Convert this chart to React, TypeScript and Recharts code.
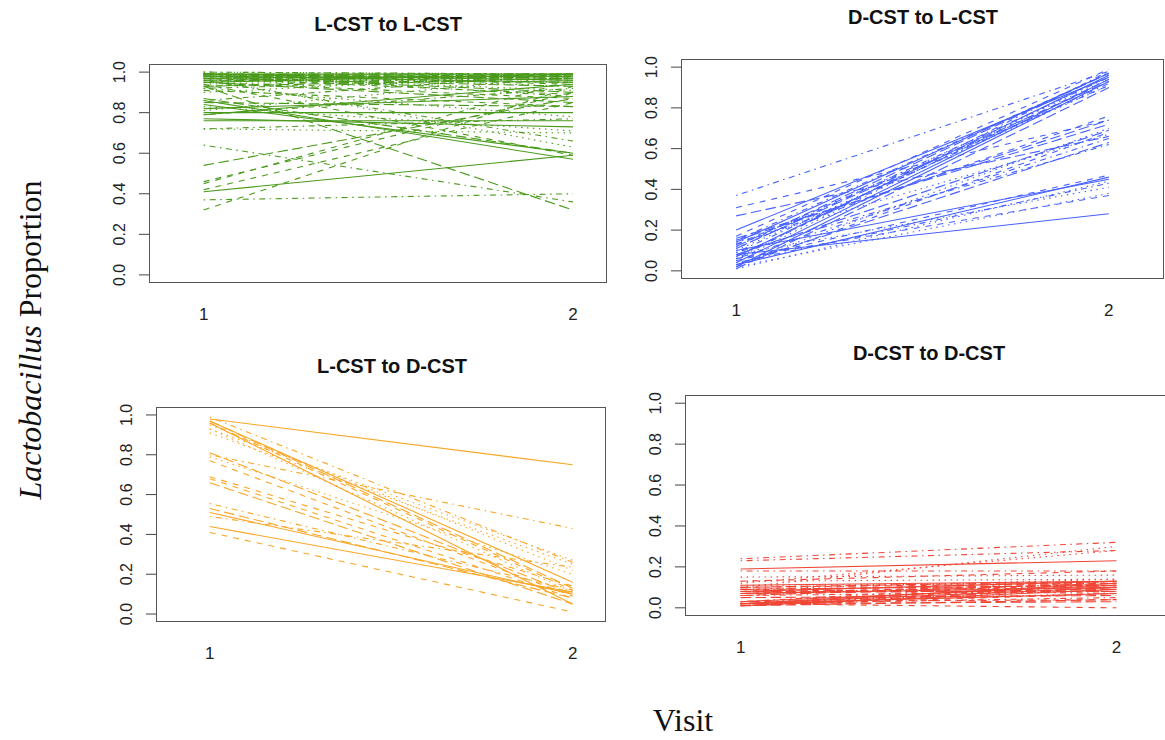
import { Line, LineChart, XAxis, YAxis } from "recharts"

// visit positions and y ticks
const visits = [1, 2]
const yTicks = [0, 0.2, 0.4, 0.6, 0.8, 1]

// L-CST to L-CST (green)
const llVisit1 = [
  0.41, 0.32, 0.72, 0.37, 0.93, 0.86, 0.46, 0.97, 0.64, 0.54,
  0.8, 0.42, 0.83, 0.72, 0.87, 0.77, 0.45, 0.81, 0.96, 0.85,
  0.76, 0.94, 0.92, 0.79, 0.95, 0.84, 0.98, 0.99, 0.97, 0.96,
  0.79, 0.99, 0.95, 0.98, 0.99, 0.97, 0.93, 0.98, 0.99, 0.97,
  0.99, 0.96, 0.94, 0.99, 0.98, 0.95, 0.99, 0.98, 0.92, 0.99,
  0.98, 0.97, 1.0, 0.96, 0.99, 0.99, 0.95, 0.97, 1.0, 0.98,
  0.82, 0.91, 0.9, 0.86, 0.93,
]
const llVisit2 = [
  0.59, 0.93, 0.7, 0.4, 0.32, 0.57, 0.9, 0.63, 0.36, 0.87,
  0.8, 0.85, 0.71, 0.77, 0.6, 0.73, 0.96, 0.98, 0.66, 0.83,
  0.76, 0.59, 0.78, 0.92, 0.85, 0.6, 0.97, 0.93, 0.99, 0.95,
  0.94, 0.98, 0.97, 0.96, 0.99, 0.98, 0.99, 0.91, 0.97, 0.93,
  0.96, 0.99, 0.98, 0.88, 0.98, 0.99, 0.94, 0.99, 0.97, 0.96,
  0.95, 0.89, 0.99, 0.98, 0.97, 0.99, 0.87, 0.95, 0.99, 0.9,
  0.88, 0.83, 0.99, 0.99, 0.97,
]

// D-CST to L-CST (blue)
const dlVisit1 = [
  0.2, 0.31, 0.08, 0.37, 0.27, 0.08, 0.05, 0.12, 0.15, 0.03,
  0.1, 0.06, 0.14, 0.04, 0.11, 0.02, 0.13, 0.01, 0.09, 0.16,
  0.07, 0.02, 0.1, 0.06, 0.12, 0.04, 0.17, 0.03, 0.09, 0.01,
  0.14, 0.07, 0.05, 0.11, 0.08, 0.03, 0.13, 0.02, 0.06, 0.15,
]
const dlVisit2 = [
  0.95, 0.74, 0.41, 0.98, 0.66, 0.28, 0.47, 0.94, 0.97, 0.63,
  0.45, 0.37, 0.67, 0.43, 0.93, 0.93, 0.76, 0.44, 0.92, 0.72,
  0.96, 0.68, 0.91, 0.65, 0.97, 0.94, 0.99, 0.7, 0.62, 0.9,
  0.97, 0.94, 0.96, 0.95, 0.69, 0.46, 0.91, 0.38, 0.98, 0.74,
]

// L-CST to D-CST (orange)
const ldVisit1 = [
  0.98, 0.96, 0.93, 0.8, 0.81, 0.97, 0.77, 0.91, 0.555, 0.66,
  0.44, 0.69, 0.95, 0.49, 0.97, 0.51, 0.41, 0.79, 0.99, 0.53,
  0.96, 0.68, 0.93,
]
const ldVisit2 = [
  0.75, 0.12, 0.27, 0.43, 0.1, 0.16, 0.09, 0.25, 0.12, 0.05,
  0.11, 0.14, 0.22, 0.235, 0.13, 0.1, 0.01, 0.2, 0.26, 0.08,
  0.05, 0.08, 0.11,
]

// D-CST to D-CST (red)
const ddVisit1 = [
  0.19, 0.02, 0.1, 0.24, 0.06, 0.02, 0.13, 0.09, 0.23, 0.01,
  0.11, 0.08, 0.03, 0.18, 0.07, 0.02, 0.09, 0.12, 0.06, 0.1,
  0.03, 0.07, 0.02, 0.09, 0.01, 0.08, 0.03, 0.13, 0.02, 0.08,
  0.01, 0.1, 0.06, 0.02, 0.09, 0.07, 0.01, 0.11, 0.03, 0.05,
  0.02, 0.08, 0.15, 0.07, 0.02,
]
const ddVisit2 = [
  0.23, 0.0, 0.3, 0.32, 0.12, 0.1, 0.18, 0.14, 0.28, 0.04,
  0.13, 0.1, 0.07, 0.18, 0.09, 0.12, 0.11, 0.28, 0.08, 0.13,
  0.11, 0.12, 0.09, 0.07, 0.1, 0.13, 0.04, 0.14, 0.11, 0.08,
  0.09, 0.12, 0.13, 0.05, 0.11, 0.1, 0.07, 0.12, 0.13, 0.06,
  0.07, 0.13, 0.16, 0.11, 0.03,
]

// R lty 1..5: solid, dashed, dotted, dotdash, longdash
const dashes = [undefined, "6 6", "1.5 4.5", "1.5 4.5 6 4.5", "10.5 4.5"]

const YW = 60
const XH = 45
const MT = 20
const sans = '"Liberation Sans", Arial, Helvetica, sans-serif'

function toRows(v1: number[], v2: number[]) {
  return visits.map((visit, k) => {
    const row: Record<string, number> = { visit }
    ;(k === 0 ? v1 : v2).forEach((v, i) => {
      row[`s${i}`] = v
    })
    return row
  })
}

type PanelProps = {
  title: string
  titleX: number
  titleY: number
  left: number
  top: number
  width: number
  height: number
  xMax: number
  color: string
  v1: number[]
  v2: number[]
}

function Panel({ title, titleX, titleY, left, top, width, height, xMax, color, v1, v2 }: PanelProps) {
  const rows = toRows(v1, v2)
  return (
    <>
      <div
        style={{
          position: "absolute",
          left: titleX,
          top: titleY,
          transform: "translate(-50%, -50%)",
          fontFamily: sans,
          fontWeight: "bold",
          fontSize: 20,
          color: "#111",
          whiteSpace: "nowrap",
        }}
      >
        {title}
      </div>
      <div style={{ position: "absolute", left: left - YW, top: top - MT }}>
        <LineChart
          width={width + YW}
          height={height + XH + MT}
          data={rows}
          margin={{ top: MT, right: 0, bottom: 0, left: 0 }}
        >
          <XAxis
            type="number"
            dataKey="visit"
            domain={[0.852, xMax]}
            ticks={visits}
            allowDataOverflow
            axisLine={false}
            tickLine={false}
            height={XH}
            tick={(p: any) => (
              <text
                x={p.x}
                y={MT + height + 31}
                textAnchor="middle"
                dominantBaseline="central"
                fontFamily={sans}
                fontSize={17}
                fill="#222"
              >
                {p.payload.value}
              </text>
            )}
          />
          <YAxis
            type="number"
            domain={[-0.04, 1.04]}
            ticks={yTicks}
            allowDataOverflow
            width={YW}
            axisLine={false}
            tickSize={10}
            tickLine={{ stroke: "#444" }}
            tick={(p: any) => {
              const cx = YW - 29
              return (
                <text
                  x={cx}
                  y={p.y}
                  transform={`rotate(-90 ${cx} ${p.y})`}
                  textAnchor="middle"
                  dominantBaseline="central"
                  fontFamily={sans}
                  fontSize={16}
                  fill="#222"
                >
                  {p.payload.value.toFixed(1)}
                </text>
              )
            }}
          />
          {v1.map((_, i) => (
            <Line
              key={i}
              dataKey={`s${i}`}
              type="linear"
              stroke={color}
              strokeWidth={1.1}
              strokeDasharray={dashes[i % 5]}
              dot={false}
              activeDot={false}
              isAnimationActive={false}
            />
          ))}
        </LineChart>
      </div>
      <div
        style={{
          position: "absolute",
          left,
          top,
          width,
          height,
          boxSizing: "border-box",
          border: "1.5px solid #555",
          pointerEvents: "none",
        }}
      />
    </>
  )
}

export default function App() {
  return (
    <div
      style={{
        position: "fixed",
        left: 0,
        top: 0,
        width: 1165,
        height: 740,
        overflow: "hidden",
        background: "#fff",
      }}
    >
      <Panel
        title="L-CST to L-CST"
        titleX={388}
        titleY={24}
        left={149}
        top={64}
        width={458}
        height={219}
        xMax={2.092}
        color="#4a9a1c"
        v1={llVisit1}
        v2={llVisit2}
      />
      <Panel
        title="D-CST to L-CST"
        titleX={923}
        titleY={17}
        left={681}
        top={59}
        width={483}
        height={220}
        xMax={2.148}
        color="#4560ff"
        v1={dlVisit1}
        v2={dlVisit2}
      />
      <Panel
        title="L-CST to D-CST"
        titleX={392}
        titleY={366}
        left={156}
        top={407}
        width={450}
        height={215}
        xMax={2.092}
        color="#f9a626"
        v1={ldVisit1}
        v2={ldVisit2}
      />
      <Panel
        title="D-CST to D-CST"
        titleX={929}
        titleY={353}
        left={685}
        top={395}
        width={487}
        height={221}
        xMax={2.148}
        color="#f04535"
        v1={ddVisit1}
        v2={ddVisit2}
      />
      <div
        style={{
          position: "absolute",
          left: 30,
          top: 340,
          transform: "translate(-50%, -50%) rotate(-90deg)",
          fontFamily: '"Liberation Serif", "DejaVu Serif", serif',
          fontSize: 32,
          color: "#111",
          whiteSpace: "nowrap",
        }}
      >
        <i>Lactobacillus</i> Proportion
      </div>
      <div
        style={{
          position: "absolute",
          left: 683,
          top: 720,
          transform: "translate(-50%, -50%)",
          fontFamily: '"Liberation Serif", "DejaVu Serif", serif',
          fontSize: 32,
          color: "#111",
          whiteSpace: "nowrap",
        }}
      >
        Visit
      </div>
    </div>
  )
}
